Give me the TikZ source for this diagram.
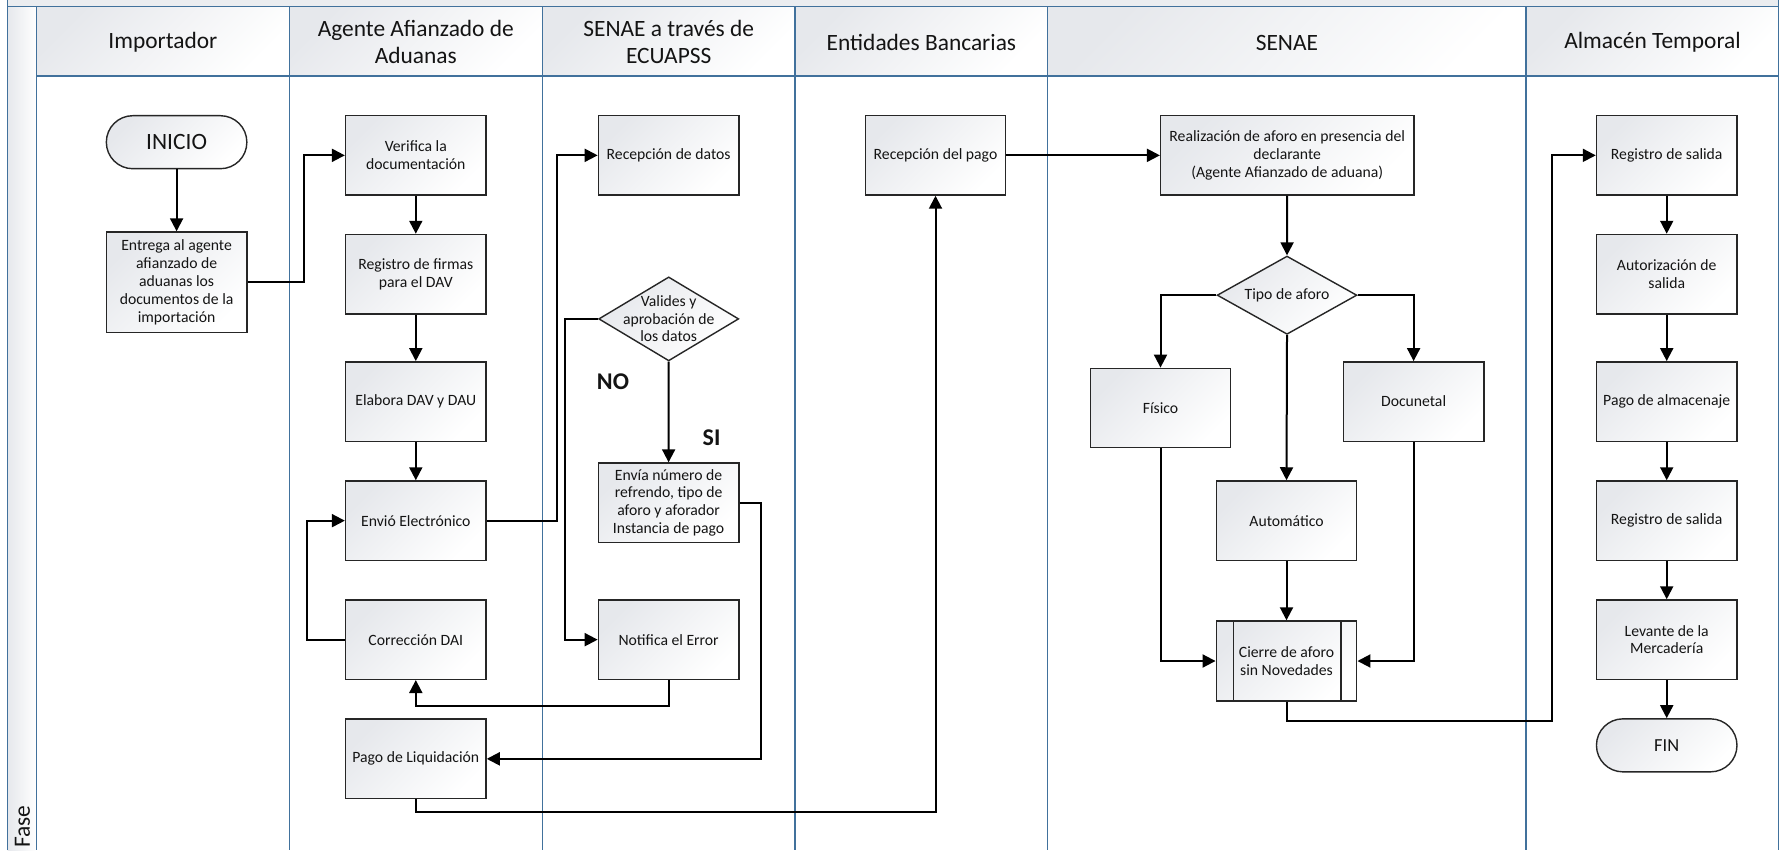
\documentclass[tikz,border=0pt]{standalone}
\usepackage{fontspec}
\setmainfont{Carlito}
\usetikzlibrary{arrows.meta,shapes.geometric,calc}
\definecolor{lanecol}{RGB}{65,113,156}
\definecolor{shadegray}{RGB}{230,232,236}
\definecolor{txt}{RGB}{20,20,20}
\begin{document}
\begin{tikzpicture}[x=0.5pt,y=-0.5pt,
  lane/.style={draw=lanecol, line width=0.75pt},
  hdr/.style={font=\fontsize{11.7}{13.5}\selectfont, align=center, text=txt},
  proc/.style={draw=black!85, line width=0.7pt, top color=shadegray, bottom color=white, shading angle=45,
    minimum width=70.25pt, minimum height=39.7pt, inner sep=1pt, align=center,
    font=\fontsize{7.85}{8.9}\selectfont, text=txt},
  term/.style={proc, minimum height=26.5pt, rounded corners=13.2pt},
  dec/.style={diamond, draw=black!85, line width=0.7pt, top color=shadegray, bottom color=white, shading angle=45,
    inner sep=0pt, minimum width=70pt, minimum height=42pt},
  lbl/.style={font=\fontsize{7.85}{8.8}\selectfont, align=center, text=txt, inner sep=0pt},
  arr/.style={draw=black, line width=1pt, -{Triangle[length=6.5pt,width=6.5pt]}},
  yn/.style={font=\fontsize{12}{14}\selectfont\bfseries, text=txt, inner sep=0pt}
]
\useasboundingbox (0,0) rectangle (1780,850);
\fill[white] (0,0) rectangle (1780,850);
% top band and Fase column
\fill[shadegray!80] (7.7,0) rectangle (1778.5,6.7);
\shade[left color=shadegray, right color=white] (7.7,6.7) rectangle (36.4,850);
% header cells
\foreach \a/\b in {36.4/289.3, 289.3/542.3, 542.3/795, 795/1047.7, 1047.7/1526, 1526/1778.5}{
  \shade[top color=shadegray, bottom color=white, shading angle=45] (\a,6.7) rectangle (\b,76);
}
% lane lines
\draw[lane] (7.7,0) -- (7.7,850);
\draw[lane] (1778.5,0) -- (1778.5,850);
\draw[lane] (7.7,6.7) -- (1778.5,6.7);
\draw[lane] (36.4,76) -- (1778.5,76);
\foreach \x in {36.4, 289.3, 542.3, 795, 1047.7, 1526}{
  \draw[lane] (\x,6.7) -- (\x,850);
}
% headers
\node[hdr] (h1) at (162.9,42.7) {Importador};
\node[hdr] (h2) at (415.8,41.5) {Agente Afianzado de\\Aduanas};
\node[hdr] (h3) at (668.7,41.5) {SENAE a través de\\ECUAPSS};
\node[hdr] (h4) at (921.4,42.7) {Entidades Bancarias};
\node[hdr] (h5) at (1286.9,42.7) {SENAE};
\node[hdr] (h6) at (1652.5,42.7) {Almacén Temporal};
\node[hdr, rotate=90, anchor=west, inner sep=0pt] (fase) at (22.5,848) {Fase};

% Importador
\node[term, font=\fontsize{11.7}{13}\selectfont] (inicio) at (176.6,142.2) {INICIO};
\node[proc, minimum height=50.35pt] (entrega) at (176.6,282.35) {Entrega al agente\\afianzado de\\aduanas los\\documentos de la\\importación};

% Agente
\node[proc] (verif) at (415.8,155.35) {Verifica la\\documentación};
\node[proc] (regfirm) at (415.8,274.15) {Registro de firmas\\para el DAV};
\node[proc] (elabora) at (415.8,401.5) {Elabora DAV y DAU};
\node[proc] (envio) at (415.8,520.65) {Envió Electrónico};
\node[proc] (correc) at (415.8,639.65) {Corrección DAI};
\node[proc] (pago) at (415.8,758.85) {Pago de Liquidación};

% ECUAPSS
\node[proc] (recdatos) at (668.6,155.35) {Recepción de datos};
\node[dec] (valides) at (668.7,318.9) {};
\node[lbl] (validestxt) at (valides.center) {Valides y\\aprobación de\\los datos};
\node[yn] (no) at (613,381.7) {NO};
\node[yn] (si) at (711.6,437.7) {SI};
\node[proc] (envia) at (668.6,502.7) {Envía número de\\refrendo, tipo de\\aforo y aforador\\Instancia de pago};
\node[proc] (notif) at (668.6,639.65) {Notifica el Error};

% Entidades Bancarias
\node[proc] (recpago) at (935.5,155.35) {Recepción del pago};

% SENAE
\node[proc, minimum width=126.6pt] (realiz) at (1287.2,155.35) {Realización de aforo en presencia del\\declarante\\(Agente Afianzado de aduana)};
\node[dec, minimum width=69.9pt, minimum height=39.15pt] (tipo) at (1287,295.2) {};
\node[lbl] (tipotxt) at (tipo.center) {Tipo de aforo};
\node[proc] (fisico) at (1160.5,408) {Físico};
\node[proc] (docu) at (1413.6,401.5) {Docunetal};
\node[proc] (auto) at (1286.5,520.65) {Automático};
\node[proc, minimum height=40pt] (cierre) at (1286.5,661) {Cierre de aforo\\sin Novedades};
\draw[draw=black!85, line width=0.7pt] ([xshift=9pt]cierre.north west) -- ([xshift=9pt]cierre.south west);
\draw[draw=black!85, line width=0.7pt] ([xshift=-8.3pt]cierre.north east) -- ([xshift=-8.3pt]cierre.south east);

% Almacen Temporal
\node[proc] (regsal1) at (1666.7,155.35) {Registro de salida};
\node[proc] (autoriz) at (1666.7,274.15) {Autorización de\\salida};
\node[proc] (pagoalm) at (1666.7,401.5) {Pago de almacenaje};
\node[proc] (regsal2) at (1666.7,520.65) {Registro de salida};
\node[proc] (levante) at (1666.7,639.65) {Levante de la\\Mercadería};
\node[term, font=\fontsize{9.2}{11}\selectfont] (fin) at (1666.7,745.35) {FIN};

% connectors
\draw[arr] (inicio) -- (entrega);
\draw[arr] (entrega.east) -- ++(56.2,0) |- (verif.west);
\draw[arr] (verif) -- (regfirm);
\draw[arr] (regfirm) -- (elabora);
\draw[arr] (elabora) -- (envio);
\draw[arr] (envio.east) -- ++(70,0) |- (recdatos.west);
\draw[arr] (correc.west) -- ++(-37.6,0) |- (envio.west);
\draw[arr] (valides.west) -- ++(-32.6,0) |- (notif.west);
\draw[arr] (valides.south) -- (envia.north);
\draw[arr] (notif.south) -- ++(0,26.4) -| (correc.south);
\draw[arr] (envia.east) -- ++(21.1,0) |- (pago.east);
\draw[arr] (pago.south) -- ++(0,13) -| (recpago.south);
\draw[arr] (recpago.east) -- (realiz.west);
\draw[arr] (realiz.south) -- (tipo.north);
\draw[arr] (tipo.west) -| (fisico.north);
\draw[arr] (tipo.east) -| (docu.north);
\draw[arr] (tipo.south) -- (auto.north);
\draw[arr] (auto) -- (cierre);
\draw[arr] (fisico.south) |- (cierre.west);
\draw[arr] (docu.south) |- (cierre.east);
\draw[arr] (cierre.south) -- ++(0,19.3) -- ++(265.5,0) |- (regsal1.west);
\draw[arr] (regsal1) -- (autoriz);
\draw[arr] (autoriz) -- (pagoalm);
\draw[arr] (pagoalm) -- (regsal2);
\draw[arr] (regsal2) -- (levante);
\draw[arr] (levante) -- (fin);
\end{tikzpicture}
\end{document}
